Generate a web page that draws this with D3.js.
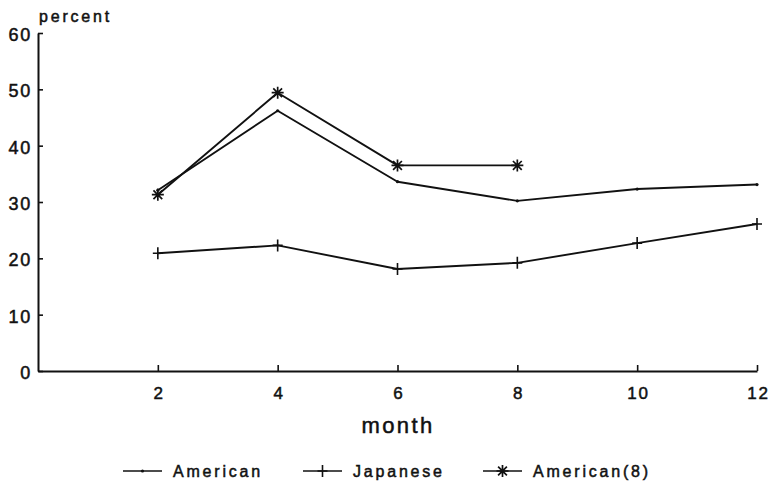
<!DOCTYPE html>
<html>
<head>
<meta charset="utf-8">
<script src="https://cdn.jsdelivr.net/npm/d3@7/dist/d3.min.js"></script>
<style>
  html, body { margin: 0; padding: 0; background: #fff; }
  svg text {
    font-family: "Liberation Sans", Arial, Helvetica, sans-serif;
    fill: #111; stroke: #111; stroke-width: 0.5px;
  }
</style>
</head>
<body>
<svg id="chart" width="770" height="491"></svg>
<script>
// Share of respondents by month, per group
const months = [2, 4, 6, 8, 10, 12];
const american = [32.1, 46.2, 33.6, 30.2, 32.3, 33.1];
const japanese = [20.9, 22.3, 18.1, 19.2, 22.7, 26.1];
const american8Months = [2, 4, 6, 8];
const american8 = [31.3, 49.4, 36.5, 36.5];

const xTicks = [2, 4, 6, 8, 10, 12];
const yTicks = [0, 10, 20, 30, 40, 50, 60];
const seriesNames = ["American", "Japanese", "American(8)"];

const svg = d3.select("#chart");
const ink = "#111";

const x = d3.scaleLinear().domain([0, 12]).range([38, 757]);
const y = d3.scaleLinear().domain([0, 60]).range([371, 33]);

// Axes: ticks point into the plot
const yAxis = d3.axisLeft(y).tickValues(yTicks).tickSize(-5).tickSizeOuter(0).tickPadding(6).tickFormat(d3.format("d"));
const xAxis = d3.axisBottom(x).tickValues(xTicks).tickSize(-6).tickSizeOuter(0).tickPadding(16).tickFormat(d3.format("d"));

const gy = svg.append("g").attr("transform", `translate(${x(0)},0)`).call(yAxis);
const gx = svg.append("g").attr("transform", `translate(0,${y(0)})`).call(xAxis);

[gx, gy].forEach(g => {
  g.select(".domain").attr("stroke", ink).attr("stroke-width", 2);
  g.selectAll(".tick line").attr("stroke", ink).attr("stroke-width", 1.6);
  g.selectAll(".tick text")
    .attr("fill", ink)
    .style("font-size", "18px")
    .style("letter-spacing", "1.8px");
});
gy.selectAll(".tick text").attr("dy", "0.42em");
gx.selectAll(".tick text").style("font-size", "17px").attr("dy", "0.71em")
  .attr("dx", "0.9px");

// Axis titles
svg.append("text")
  .attr("x", 39).attr("y", 22)
  .style("font-size", "16px").style("letter-spacing", "2.8px")
  .text("percent");

svg.append("text")
  .attr("x", 398).attr("y", 433)
  .attr("text-anchor", "middle")
  .style("font-size", "22px").style("letter-spacing", "2.4px")
  .text("month");

// Marker shapes
function markDot(g, cx, cy) {
  g.append("circle").attr("cx", cx).attr("cy", cy).attr("r", 1.6).attr("fill", ink);
}
function markPlus(g, cx, cy) {
  g.append("path")
    .attr("d", `M${cx - 5},${cy}H${cx + 5}M${cx},${cy - 6}V${cy + 6}`)
    .attr("stroke", ink).attr("stroke-width", 1.6).attr("fill", "none");
}
function markStar(g, cx, cy) {
  const r = 6, d = 4.4;
  g.append("path")
    .attr("d", `M${cx},${cy - r}V${cy + r}M${cx - r},${cy}H${cx + r}` +
               `M${cx - d},${cy - d}L${cx + d},${cy + d}M${cx - d},${cy + d}L${cx + d},${cy - d}`)
    .attr("stroke", ink).attr("stroke-width", 1.7).attr("fill", "none");
}

const line = d3.line().x(d => x(d[0])).y(d => y(d[1]));

const series = [
  { name: seriesNames[0], xs: months, ys: american, mark: markDot },
  { name: seriesNames[1], xs: months, ys: japanese, mark: markPlus },
  { name: seriesNames[2], xs: american8Months, ys: american8, mark: markStar }
];

series.forEach(s => {
  const pts = s.xs.map((m, i) => [m, s.ys[i]]);
  const g = svg.append("g");
  g.append("path").datum(pts).attr("d", line)
    .attr("fill", "none").attr("stroke", ink).attr("stroke-width", 1.9)
    .attr("stroke-linejoin", "round");
  pts.forEach(p => s.mark(g, x(p[0]), y(p[1])));
});

// Legend
const legendStarts = [123, 303, 483];
const legendY = 471;
series.forEach((s, i) => {
  const g = svg.append("g");
  const x0 = legendStarts[i];
  g.append("line").attr("x1", x0).attr("x2", x0 + 39).attr("y1", legendY).attr("y2", legendY)
    .attr("stroke", ink).attr("stroke-width", 1.6);
  s.mark(g, x0 + 19.5, legendY);
  g.append("text").attr("x", x0 + 50).attr("y", legendY + 6)
    .style("font-size", "16px").style("letter-spacing", "2.8px")
    .text(s.name);
});
</script>
</body>
</html>
